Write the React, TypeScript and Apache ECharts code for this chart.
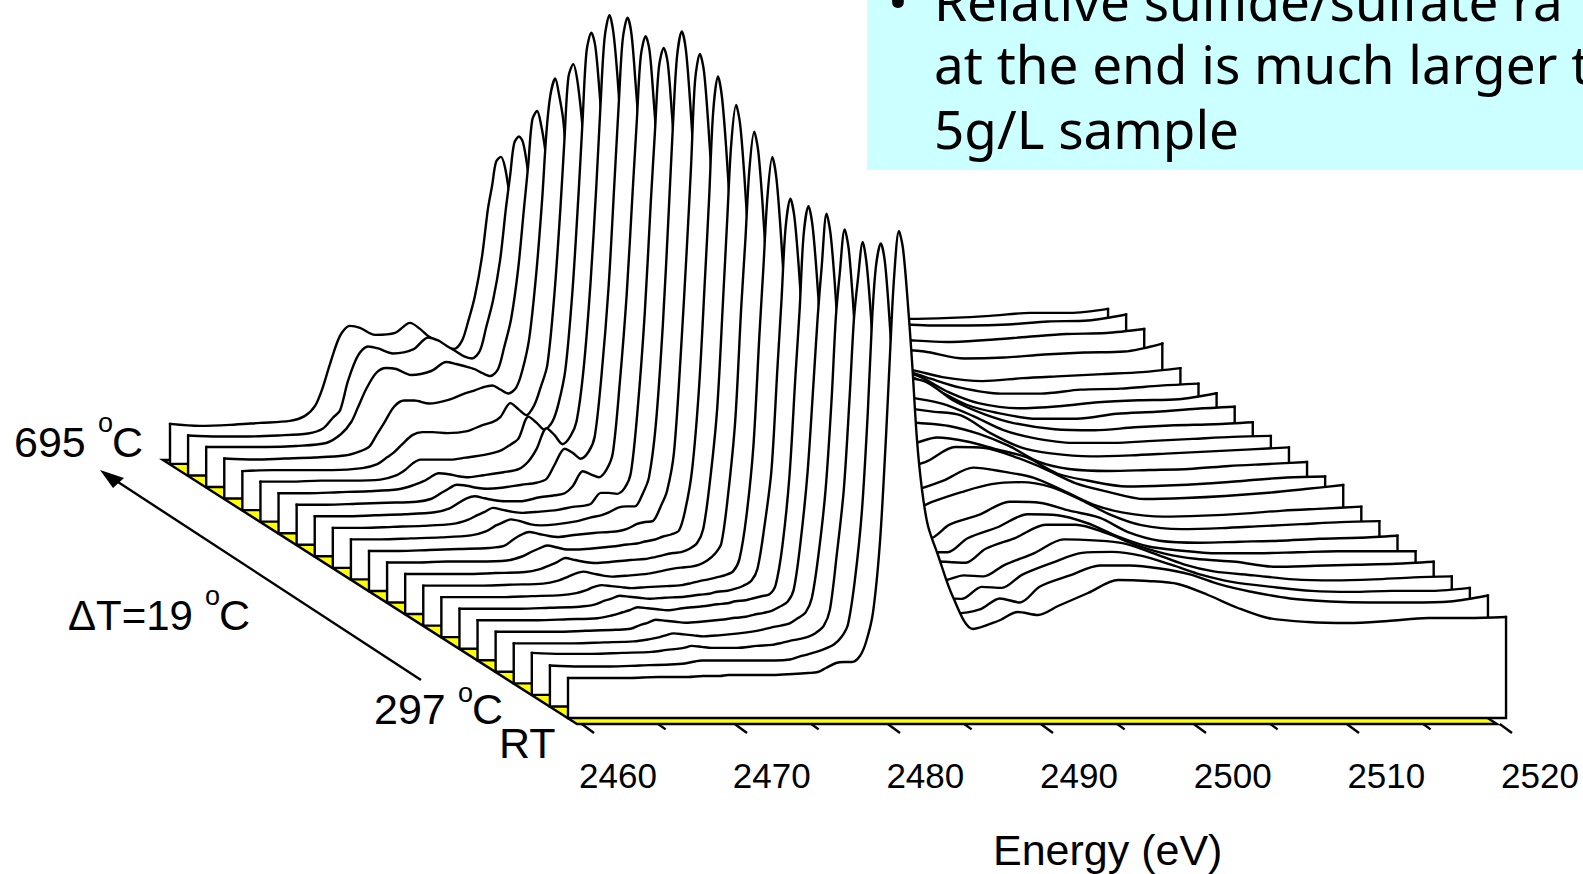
import React, { useEffect, useRef } from "react";
import * as echarts from "echarts";

// Photon energy of every sample of every spectrum (eV)
const energies = [
  2459.1, 2461.06, 2463.02, 2464.98, 2466.94, 2467.92, 2468.58, 2469.03, 2469.56, 2470.21, 2470.86, 2471.52, 2472.5, 2473.81, 2474.79, 2475.44, 2475.96, 2476.62, 2477.14, 2477.66, 2478.18,
  2478.58, 2479.03, 2479.49, 2479.88, 2480.15, 2480.41, 2480.73, 2480.99, 2481.26, 2481.58, 2481.91, 2482.24, 2482.63, 2483.28, 2484.26, 2485.57,
  2487.2, 2488.51, 2489.82, 2491.13, 2493.09, 2495.05, 2497.01, 2498.97, 2500.93, 2502.89, 2504.85, 2507.47, 2510.08, 2512.69, 2515.31, 2517.92, 2520.41,
];

// Spectra, front (RT) to back (695 C)
const curveRT = [40,40,40,41,41,42,42,42,43,43,43,43,43,44,45,46,50,55,56,56,62, 76,105,176,280,365,440,487,470,425,358,278,228,192,163,121,89, 97,106,103,112,125,138,137,134,123,110,100,96,95,97,100,100,101];
const curve297 = [41,40,40,41,42,43,45,46,46,46,46,46,46,46,47,50,52,55,58,62,70, 82,126,195,295,385,440,463,445,395,320,250,200,170,135,105,93, 97,108,104,120,131,141,141,138,132,122,115,108,105,104,104,105,111];
const curve316 = [42,41,41,42,43,45,46,47,49,48,47,47,47,49,50,52,54,56,58,62,69, 85,140,205,300,375,415,453,430,380,305,240,198,170,142,118,100, 96,108,107,120,132,142,143,139,130,120,113,108,104,103,104,104,107];
const curve335 = [40,40,40,41,42,44,46,48,50,49,48,47,48,50,52,54,56,58,60,65,71, 85,130,195,285,365,410,454,435,385,312,250,210,182,155,130,112, 103,108,107,118,130,144,143,140,130,119,112,108,104,103,104,106,107];
const curve354 = [40,40,40,41,42,43,47,49,52,51,50,49,50,52,54,55,57,59,61,65,70, 82,130,200,290,355,405,458,438,390,318,255,215,188,162,140,122, 112,110,109,123,134,147,147,139,127,118,113,110,105,106,107,108,110];
const curve373 = [40,40,40,41,42,45,48,50,53,52,51,50,52,54,56,57,59,60,62,64,66, 75,115,185,285,350,425,454,435,388,318,255,215,190,165,145,128, 115,108,108,122,133,146,145,137,124,114,110,107,107,108,109,109,109];
const curve392 = [40,40,40,41,42,44,48,50,53,52,51,50,51,52,54,55,57,58,60,63,68, 80,122,178,280,349,420,450,432,385,315,255,215,190,165,145,130, 120,112,110,124,134,147,146,138,131,116,108,106,107,108,110,111,113];
const curve411 = [40,40,40,41,42,44,47,50,52,51,50,49,50,51,52,54,56,58,60,62,66, 78,120,190,300,370,440,480,460,410,335,275,235,205,180,160,145, 132,128,127,135,145,153,155,150,137,122,112,108,109,111,113,115,116];
const curve430 = [40,40,40,41,42,45,49,52,54,52,50,49,50,52,55,57,58,59,61,65,72, 82,132,205,318,385,455,494,475,425,350,290,245,215,190,170,155, 145,138,132,135,145,158,154,148,135,121,113,109,110,112,115,117,119];
const curve449 = [40,40,40,41,42,45,49,52,56,54,52,51,52,54,55,57,59,61,62,65,71, 85,134,205,315,395,470,509,490,440,365,305,260,228,205,185,170, 160,152,148,146,152,167,166,157,145,131,123,115,116,118,121,125,129];
const curve468 = [40,40,41,41,42,46,51,54,57,55,53,53,54,56,58,59,61,63,66,68,72, 92,132,215,325,405,490,526,505,455,380,315,270,240,215,195,180, 170,165,160,158,158,165,161,153,145,129,122,116,117,119,122,125,126];
const curve487 = [40,40,41,42,43,45,52,56,59,57,55,54,56,58,59,60,62,67,69,70,85, 100,138,240,345,425,510,537,520,470,395,325,280,250,225,205,192, 185,180,175,172,170,168,165,157,145,129,122,120,121,122,125,127,129];
const curve506 = [40,40,41,42,44,48,54,57,60,58,55,54,55,58,62,64,67,72,73,73,86, 102,155,255,370,455,522,548,530,480,405,335,290,260,235,217,205, 195,190,186,180,176,172,168,164,146,132,126,123,124,126,128,130,132];
const curve525 = [40,40,41,42,44,48,53,56,60,58,56,55,56,58,61,62,64,75,75,74,80, 95,160,255,365,435,500,520,505,455,390,330,290,260,235,215,200, 192,188,185,182,180,175,170,164,152,138,130,125,125,127,129,131,132];
const curve544 = [40,40,41,42,44,48,54,58,60,58,56,55,55,59,61,63,70,85,82,79,87, 103,172,262,365,435,500,520,505,455,390,330,285,255,232,212,198, 190,186,184,182,181,180,179,175,155,142,133,127,126,129,131,132,134];
const curve563 = [40,40,41,42,43,46,52,56,60,59,57,56,57,60,62,66,80,96,92,86,93, 108,170,258,365,440,505,527,510,460,395,330,285,255,228,208,195, 185,180,177,175,173,171,170,169,155,140,132,126,126,131,133,136,138];
const curve582 = [40,40,41,42,44,48,52,56,60,59,57,56,58,61,64,72,84,105,98,89,97, 112,163,250,350,430,495,518,500,455,385,320,280,250,222,203,190, 180,175,172,170,168,167,166,165,157,141,130,125,127,131,133,134,140];
const curve601 = [40,40,41,41,42,46,52,58,62,62,62,62,64,67,71,77,83,105,99,92,100, 118,152,230,325,400,470,489,475,430,365,305,265,240,215,198,185, 175,170,168,165,164,162,160,160,153,143,134,128,128,132,133,136,138];
const curve620 = [39,40,40,40,42,46,53,58,66,75,78,78,77,79,85,88,93,107,101,95,105, 122,145,215,300,370,433,446,430,395,340,290,255,232,210,195,182, 172,165,160,156,152,149,147,145,143,140,133,129,132,134,136,138,142];
const curve639 = [40,39,40,41,43,47,52,63,76,92,98,98,95,99,105,108,111,113,109,105,111, 128,160,225,300,365,403,420,403,378,320,280,250,232,212,198,186, 176,170,166,162,158,156,154,152,150,149,147,140,141,144,146,147,155];
const curve658 = [40,40,40,41,44,53,65,80,98,114,119,118,112,116,125,123,121,118,114,111,118, 140,168,218,280,322,367,376,362,337,295,260,235,220,205,192,182, 172,168,164,160,157,155,153,151,150,149,147,145,147,150,153,154,158];
const curve677 = [40,39,39,40,42,47,58,65,95,120,129,127,122,126,138,135,130,124,119,117,125, 148,175,215,268,300,332,339,333,310,270,240,225,212,200,190,180, 172,168,165,163,160,158,156,155,154,153,152,150,150,151,154,155,161];
const curve695 = [40,38,39,41,43,48,58,74,100,128,138,136,129,131,141,135,128,122,117,115,123, 142,168,207,255,278,302,307,297,272,240,225,215,205,195,185,175, 168,164,160,158,155,153,151,150,149,148,147,145,146,148,151,151,155];

const spectra = [curveRT, curve297, curve316, curve335, curve354, curve373, curve392, curve411, curve430, curve449, curve468, curve487, curve506, curve525, curve544, curve563, curve582, curve601, curve620, curve639, curve658, curve677, curve695];
const spectrumNames = ["RT", "297", "316", "335", "354", "373", "392", "411", "430", "449", "468", "487", "506", "525", "544", "563", "582", "601", "620", "639", "658", "677", "695"];

const tickLabelsMajor = [2460, 2470, 2480, 2490, 2500, 2510, 2520];
const tickMinor = [2465, 2475, 2485, 2495, 2505, 2515];

// Waterfall step between successive spectra
const stepEnergy = -1.1824;
const stepIntensity = 11.55;
const frontBase = 156;

// Plot area floor corners (energy, intensity axis)
const floorEnergy = [2432.63, 2459.69, 2519.82, 2492.76];
const floorValue = [414, 150, 150, 414];

const FONT = '"Liberation Sans", Arial, sans-serif';
const NOTE_FONT = '"Noto Sans", sans-serif';
const LINE_W = 2.4;

function txt(text: string, x: number, baseline: number, size: number) {
  return {
    type: "text",
    x,
    y: baseline - 0.83 * size,
    silent: true,
    style: { text, fontFamily: FONT, fontSize: size, fill: "#000" },
  };
}
function note(text: string, x: number, baseline: number) {
  return {
    type: "text",
    x,
    y: baseline - 0.89 * 53,
    silent: true,
    style: { text, fontFamily: NOTE_FONT, fontSize: 53, fill: "#000" },
  };
}

export default function App() {
  const ref = useRef<HTMLDivElement>(null);
  useEffect(() => {
    document.body.style.margin = "0";
    document.body.style.overflow = "hidden";
    const chart = echarts.init(ref.current!, null, { renderer: "svg" });
    const curveSeries: any[] = [];
    spectra.forEach((vals, k) => {
      const base = frontBase + k * stepIntensity;
      const shift = k * stepEnergy;
      const first = energies[0] + shift;
      const last = energies[energies.length - 1] + shift;
      curveSeries.push({
        type: "line",
        name: spectrumNames[k],
        z: 40 - k,
        data: vals.map((h, i) => [energies[i] + shift, base + h]),
        xAxisIndex: 0,
        yAxisIndex: 0,
        symbol: "none",
        smooth: 0.3,
        clip: false,
        silent: true,
        lineStyle: { color: "#000", width: LINE_W, join: "round", cap: "round" },
        areaStyle: { color: "#fff", opacity: 1, origin: base },
      });
      curveSeries.push({
        type: "line",
        name: spectrumNames[k] + " frame",
        z: 40 - k,
        data: [
          [first, base + vals[0]],
          [first, base],
          [last, base],
          [last, base + vals[vals.length - 1]],
        ],
        xAxisIndex: 0,
        yAxisIndex: 0,
        symbol: "none",
        clip: false,
        silent: true,
        lineStyle: { color: "#000", width: LINE_W, join: "miter", cap: "square" },
      });
    });

    const option: any = {
      animation: false,
      backgroundColor: "#fff",
      grid: [
        { left: 0, right: 0, top: 0, bottom: 0 },
        { left: 618, width: 922, top: 740, height: 1 },
      ],
      xAxis: [
        { type: "value", gridIndex: 0, min: 2421.976, max: 2525.44, show: false },
        {
          type: "value",
          gridIndex: 1,
          min: 2460,
          max: 2520,
          interval: 10,
          axisLine: { show: false },
          axisTick: { show: false },
          splitLine: { show: false },
          axisLabel: { fontFamily: FONT, fontSize: 35, color: "#000", margin: 17, formatter: (v: number) => String(v) },
        },
      ],
      yAxis: [
        { type: "value", gridIndex: 0, min: 0, max: 874, show: false },
        { type: "value", gridIndex: 1, show: false },
      ],
      series: [
        {
          type: "custom",
          name: "floor",
          z: 2,
          xAxisIndex: 0,
          yAxisIndex: 0,
          silent: true,
          data: [[floorEnergy[0], floorValue[0]]],
          renderItem: (_p: any, api: any) => ({
            type: "polygon",
            shape: { points: floorEnergy.map((e, i) => api.coord([e, floorValue[i]])) },
            style: { fill: "#ffff00", stroke: "#000", lineWidth: LINE_W },
          }),
        },
        {
          type: "custom",
          name: "ticks",
          z: 2,
          xAxisIndex: 0,
          yAxisIndex: 0,
          silent: true,
          data: [...tickLabelsMajor.map((t) => [t, 1]), ...tickMinor.map((t) => [t, 0.6])],
          renderItem: (_p: any, api: any) => {
            const e = api.value(0);
            const l = api.value(1);
            const a = api.coord([e, 150]);
            const b = api.coord([e + 0.8 * l, 150 - 9 * l]);
            return {
              type: "line",
              shape: { x1: a[0], y1: a[1], x2: b[0], y2: b[1] },
              style: { stroke: "#000", lineWidth: LINE_W },
            };
          },
        },
        ...curveSeries,
      ],
      graphic: [
        { type: "rect", shape: { x: 867, y: 0, width: 716, height: 170 }, style: { fill: "#ccffff" }, silent: true },
        note("•", 888, 21),
        note("Relative sulfide/sulfate ra", 934, 21),
        note("at the end is much larger t", 934, 84),
        note("5g/L sample", 934, 149),
        txt("695", 14, 456, 43),
        txt("o", 98, 432, 27),
        txt("C", 112, 456, 43),
        txt("ΔT=19", 68, 629, 42),
        txt("o", 205, 605, 27),
        txt("C", 219, 629, 43),
        txt("297", 374, 723, 43),
        txt("o", 458, 702, 27),
        txt("C", 472, 723, 43),
        txt("RT", 499, 757, 43),
        txt("Energy (eV)", 993, 864, 43),
        {
          type: "line",
          shape: { x1: 421, y1: 680, x2: 118, y2: 482 },
          style: { stroke: "#000", lineWidth: LINE_W },
          silent: true,
        },
        {
          type: "polygon",
          shape: { points: [[100, 470], [124, 478], [113, 488]] },
          style: { fill: "#000" },
          silent: true,
        },
      ],
    };
    chart.setOption(option);
    return () => chart.dispose();
  }, []);
  return <div ref={ref} style={{ width: 1583, height: 874, position: "fixed", left: 0, top: 0 }} />;
}
